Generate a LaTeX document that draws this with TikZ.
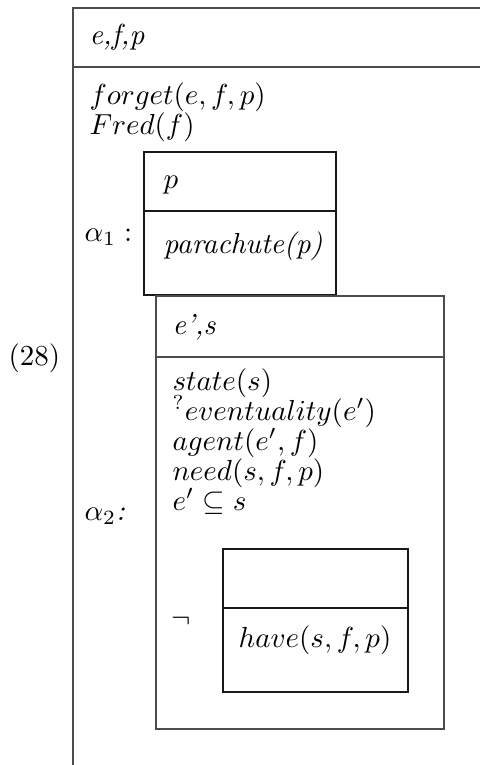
\documentclass[tikz,border=0pt]{standalone}
\usepackage{amsmath,amssymb}
\usepackage{tikz}
\usetikzlibrary{positioning}

\begin{document}
\begin{tikzpicture}[x=0.345pt,y=-0.345pt,
  rule/.style={line width=0.55pt,draw=black!70},
  inner/.style={line width=0.55pt,draw=black!90},
  txt/.style={anchor=base west,inner sep=0pt,text height=7pt,text depth=2.4pt}]
\useasboundingbox (0,0) rectangle (480,765);
% outer box (runs off the page at right and bottom)
\draw[rule] (480,8) -- (73,8) -- (73,765);
\draw[rule] (73,67) -- (480,67);
\node[txt] (num) at (8,365) {(28)};
\node[txt] (refs) at (89,45) {\textit{e,f,p}};
\node[txt] (forget) at (89,104) {$forget(e,f,p)$};
\node[txt] (fred) at (89,134) {$Fred(f)$};
% alpha 1
\node[txt] (a1) at (84,241) {$\alpha_1:$};
\draw[inner] (144,152) rectangle (336,295);
\draw[inner] (144,211) -- (336,211);
\node[txt] (a1refs) at (163,188) {$p$};
\node[txt] (para) at (163,253) {\textit{parachute(p)}};
% alpha 2
\node[txt] (a2) at (84,520) {$\alpha_2$\textit{:}};
\draw[rule] (156,296) rectangle (444,729);
\draw[rule] (156,357) -- (444,357);
\node[txt] (a2refs) at (172,334) {\textit{e',s}};
\foreach \cnd [count=\i from 0] in {{$state(s)$},{$^?eventuality(e')$},{$agent(e',f)$},{$need(s,f,p)$},{$e'\subseteq s$}}
  \node[txt] (c\i) at (172,390+30*\i) {\cnd};
% negated box
\node[txt] (neg) at (171,627) {$\neg$};
\draw[inner] (223,549) rectangle (408,692);
\draw[inner] (223,608) -- (408,608);
\node[txt] (have) at (238,647) {$have(s,f,p)$};
\end{tikzpicture}
\end{document}
